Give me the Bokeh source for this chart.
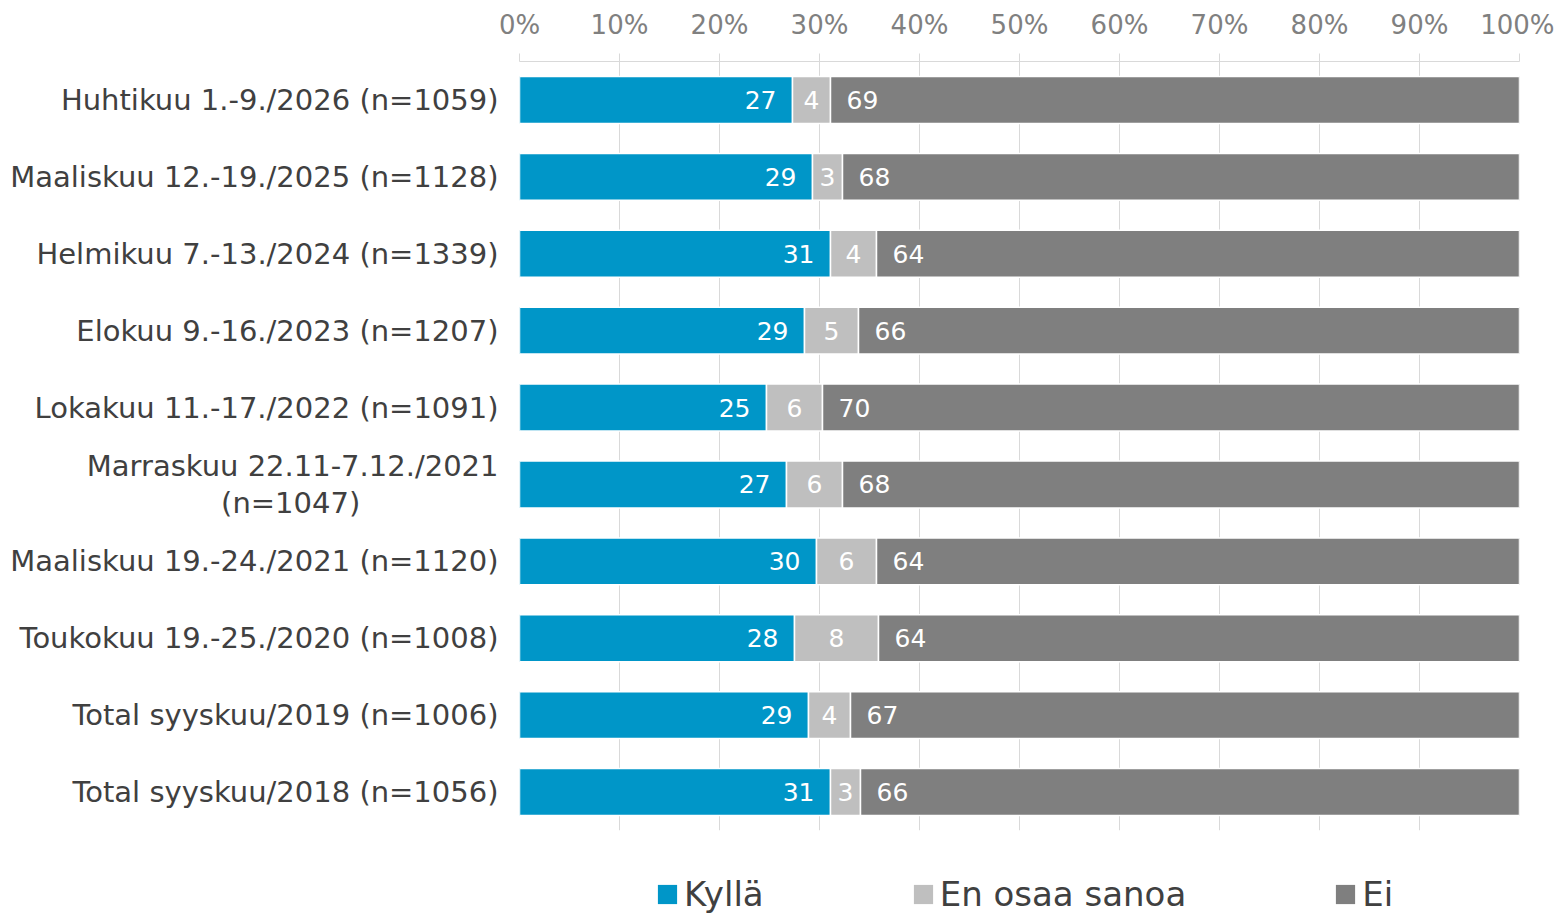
from bokeh.plotting import figure
from bokeh.models import (ColumnDataSource, FactorRange, Range1d, Legend, LegendItem,
                          FixedTicker, CustomJSTickFormatter, LabelSet)
from bokeh.layouts import column
from bokeh.core.properties import value
from bokeh.embed import file_html
from bokeh.resources import INLINE

NB = "\u00a0"
categories = [
    "Huhtikuu 1.-9./2026 (n=1059)",
    "Maaliskuu 12.-19./2025 (n=1128)",
    "Helmikuu 7.-13./2024 (n=1339)",
    "Elokuu 9.-16./2023 (n=1207)",
    "Lokakuu 11.-17./2022 (n=1091)",
    "Marraskuu 22.11-7.12./2021\n(n=1047)" + NB * 15,
    "Maaliskuu 19.-24./2021 (n=1120)",
    "Toukokuu 19.-25./2020 (n=1008)",
    "Total syyskuu/2019 (n=1006)",
    "Total syyskuu/2018 (n=1056)",
]
kylla = [27.3, 29.3, 31.1, 28.5, 24.7, 26.7, 29.7, 27.5, 28.9, 31.1]
eos = [3.8, 3.0, 4.6, 5.4, 5.6, 5.6, 6.0, 8.4, 4.2, 3.0]
ei = [68.9, 67.7, 64.3, 66.1, 69.7, 67.7, 64.3, 64.1, 66.9, 65.9]
kylla_lbl = ["27", "29", "31", "29", "25", "27", "30", "28", "29", "31"]
eos_lbl = ["4", "3", "4", "5", "6", "6", "6", "8", "4", "3"]
ei_lbl = ["69", "68", "64", "66", "70", "68", "64", "64", "67", "66"]
ticks = [0, 10, 20, 30, 40, 50, 60, 70, 80, 90, 100]
series = ["Kyllä", "En osaa sanoa", "Ei"]
colors = ["#0096C8", "#BFBFBF", "#7F7F7F"]

FONT = "DejaVu Sans"

k0 = [0.0] * len(categories)
k1 = [a for a in kylla]
e1 = [a + b for a, b in zip(kylla, eos)]
i1 = [a + b + c for a, b, c in zip(kylla, eos, ei)]
src = ColumnDataSource(dict(
    cat=categories, k0=k0, k1=k1, e1=e1, i1=i1,
    emid=[(a + b) / 2 for a, b in zip(k1, e1)],
    kl=kylla_lbl, el=eos_lbl, il=ei_lbl,
))

p = figure(width=1554, height=840, output_backend="svg", toolbar_location=None,
           y_range=FactorRange(factors=list(reversed(categories)), range_padding=0),
           x_range=Range1d(0, 100), x_axis_location="above",
           min_border_left=519, min_border_right=35, min_border_top=61, min_border_bottom=10)
p.outline_line_color = None

bar_kw = dict(y="cat", height=0.61, source=src, line_color="white", line_width=1.5)
p.hbar(left="k0", right="k1", fill_color=colors[0], **bar_kw)
p.hbar(left="k1", right="e1", fill_color=colors[1], **bar_kw)
p.hbar(left="e1", right="i1", fill_color=colors[2], **bar_kw)

lab_kw = dict(source=src, y="cat", text_color="white", text_font=value(FONT),
              text_font_size="25px", text_baseline="middle")
p.add_layout(LabelSet(x="k1", text="kl", text_align="right", x_offset=-16, **lab_kw))
p.add_layout(LabelSet(x="emid", text="el", text_align="center", **lab_kw))
p.add_layout(LabelSet(x="e1", text="il", text_align="left", x_offset=16, **lab_kw))

xa = p.xaxis[0]
xa.ticker = FixedTicker(ticks=ticks)
xa.formatter = CustomJSTickFormatter(code="return tick + '%';")
xa.axis_line_color = "#D9D9D9"
xa.major_tick_line_color = "#D9D9D9"
xa.major_tick_out = 8
xa.major_tick_in = 0
xa.minor_tick_line_color = None
xa.major_label_text_font = FONT
xa.major_label_text_font_size = "26px"
xa.major_label_text_color = "#808080"
xa.major_label_standoff = 14

ya = p.yaxis[0]
ya.axis_line_color = None
ya.major_tick_line_color = None
ya.minor_tick_line_color = None
ya.major_label_text_font = FONT
ya.major_label_text_font_size = "29px"
ya.major_label_text_color = "#404040"
ya.major_label_text_line_height = 1.1
ya.major_label_standoff = 15

p.xgrid.grid_line_color = "#D9D9D9"
p.ygrid.grid_line_color = None

# legend strip below the chart (its frame is aligned with the chart frame)
lf = figure(width=1554, height=74, output_backend="svg", toolbar_location=None,
            x_range=Range1d(0, 1), y_range=Range1d(0, 1),
            min_border_left=519, min_border_right=35, min_border_top=0, min_border_bottom=0)
lf.axis.visible = False
lf.grid.visible = False
lf.outline_line_color = None
dummy = ColumnDataSource(dict(y=[0], l=[0], r=[0]))
rs = [lf.hbar(y="y", left="l", right="r", height=0, source=dummy,
              fill_color=c, line_color=None) for c in colors]
legend = Legend(items=[LegendItem(label=s, renderers=[r]) for s, r in zip(series, rs)],
                orientation="horizontal", location=(136, 0),
                label_text_font=FONT, label_text_font_size="34px",
                label_text_color="#404040", glyph_width=24, glyph_height=24,
                label_standoff=5, spacing=147, padding=0, margin=0,
                border_line_color=None, background_fill_alpha=0)
lf.add_layout(legend, "center")

layout = column(p, lf, spacing=0)
open("out.html", "w").write(file_html(layout, INLINE))
